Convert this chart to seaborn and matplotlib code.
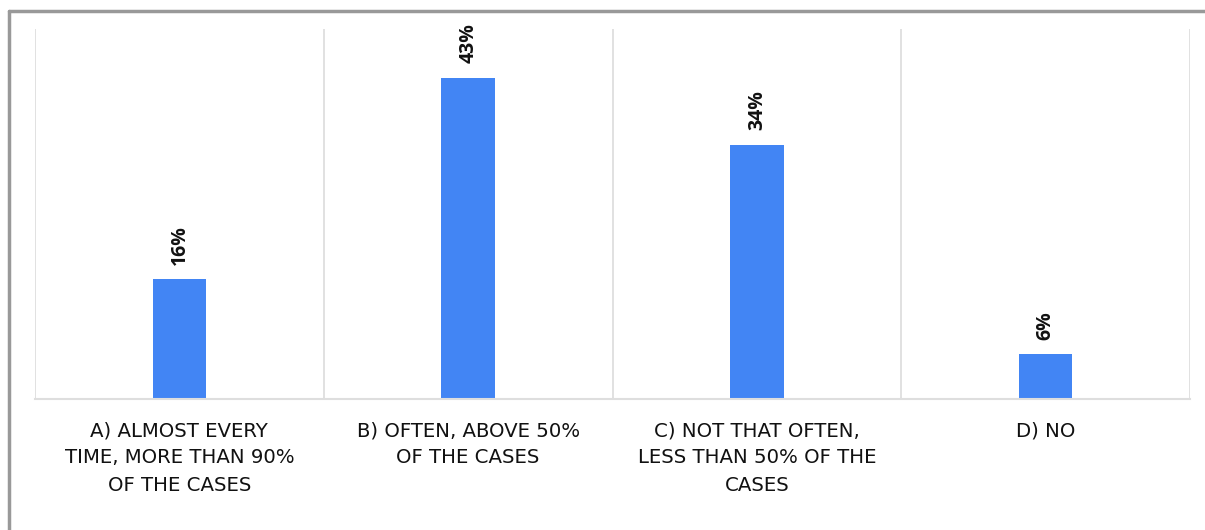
import seaborn as sns
import matplotlib.pyplot as plt
from matplotlib.lines import Line2D

# Survey answers and shares
categories = [
    "A) ALMOST EVERY\nTIME, MORE THAN 90%\nOF THE CASES",
    "B) OFTEN, ABOVE 50%\nOF THE CASES",
    "C) NOT THAT OFTEN,\nLESS THAN 50% OF THE\nCASES",
    "D) NO",
]
shares = [0.16, 0.43, 0.34, 0.06]
value_labels = ["16%", "43%", "34%", "6%"]

sns.set_style("white")
plt.rcParams['font.family'] = ['Open Sans', 'DejaVu Sans']

fig = plt.figure(figsize=(12.05, 5.3), dpi=100)
ax = fig.add_axes([35 / 1205, 131 / 530, 1155 / 1205, 370 / 530])

sns.barplot(x=categories, y=shares, color="#4285F4", width=0.185,
            saturation=1, linewidth=0, ax=ax)

ax.set_ylim(0, 0.495)
ax.set_xlim(-0.5, len(categories) - 0.5)

# vertical separators between categories
for b in range(len(categories) + 1):
    ax.axvline(b - 0.5, color="#dedede", lw=1.3, zorder=0)

for s in ["top", "right", "left"]:
    ax.spines[s].set_visible(False)
ax.spines["bottom"].set_color("#dedede")
ax.spines["bottom"].set_linewidth(1.5)
ax.set_yticks([])
ax.tick_params(axis="x", length=0, pad=16)
for t in ax.get_xticklabels():
    t.set_family(['DejaVu Sans'])
    t.set_fontsize(14.2)
    t.set_color("#111111")
    t.set_linespacing(1.55)

for i, (v, lab) in enumerate(zip(shares, value_labels)):
    ax.annotate(lab, (i, v), xytext=(0, 10.5), textcoords="offset points",
                rotation=90, ha="center", va="bottom", fontsize=14,
                fontweight="bold", color="#111111")

# outer gray frame (top and left)
fig.add_artist(Line2D([9 / 1205, 9 / 1205], [0, 519 / 530], color="#999999",
                      lw=2.5, transform=fig.transFigure))
fig.add_artist(Line2D([9 / 1205, 1], [519 / 530, 519 / 530], color="#999999",
                      lw=2.5, transform=fig.transFigure))

fig.savefig("out.png", dpi=100)
